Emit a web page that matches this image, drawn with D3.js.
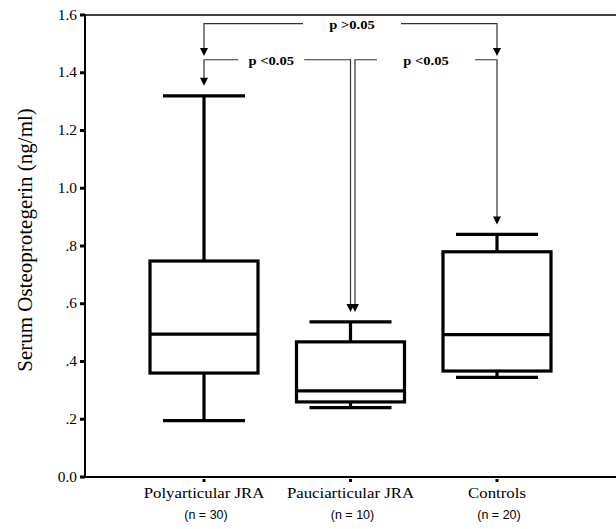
<!DOCTYPE html>
<html>
<head>
<meta charset="utf-8">
<script src="https://cdn.jsdelivr.net/npm/d3@7"></script>
<style>
  body { margin: 0; background: #fff; }
  svg { display: block; }
</style>
</head>
<body>
<svg id="chart" width="616" height="529"></svg>
<script>
const categories = ["Polyarticular JRA", "Pauciarticular JRA", "Controls"]
const nLabels = ["(n = 30)", "(n = 10)", "(n = 20)"]
const whiskerLow = [0.195, 0.24, 0.345]
const q1 = [0.36, 0.26, 0.367]
const median = [0.495, 0.298, 0.493]
const q3 = [0.748, 0.468, 0.78]
const whiskerHigh = [1.32, 0.537, 0.84]
const yTicks = [0, 0.2, 0.4, 0.6, 0.8, 1.0, 1.2, 1.4, 1.6]
const yTickLabels = ["0.0", ".2", ".4", ".6", ".8", "1.0", "1.2", "1.4", "1.6"]

// comparisons: group a -> group b, bracket level and where each arrow stops
const compFrom = [0, 0, 1]
const compTo = [2, 1, 2]
const compLabel = ["p >0.05", "p <0.05", "p <0.05"]
const compLevel = [1.57, 1.445, 1.445]
const compStopA = [1.458, null, null]
const compStopB = [1.458, null, null]

const svg = d3.select("#chart")
const W = 616
const axLeft = 85, axTop = 15, axBottom = 477

const y = d3.scaleLinear().domain([0, 1.6]).range([axBottom, axTop])
const x = d3.scalePoint().domain(categories).range([204, 497])

const boxW = 108, capW = 82
const serif = "'Liberation Serif', 'Times New Roman', serif"

// the source pdf renders its serif text a bit wide
const wideText = (sel, tx, ty, size, sx) => sel.append("text")
  .attr("transform", `translate(${tx},${ty}) scale(${sx},1)`)
  .style("font-family", serif)
  .style("font-size", size + "px")

// frame lines
svg.append("line").attr("x1", axLeft).attr("x2", W).attr("y1", axTop).attr("y2", axTop)
  .attr("stroke", "#000").attr("stroke-width", 1.5)
svg.append("line").attr("x1", axLeft).attr("x2", W).attr("y1", axBottom).attr("y2", axBottom)
  .attr("stroke", "#000").attr("stroke-width", 2)
svg.append("line").attr("x1", axLeft).attr("x2", axLeft).attr("y1", axTop).attr("y2", axBottom)
  .attr("stroke", "#000").attr("stroke-width", 2)

// y ticks
const yt = svg.append("g")
yTicks.forEach((t, i) => {
  yt.append("rect").attr("x", axLeft - 5).attr("y", y(t) - 1.5).attr("width", 5).attr("height", 3).attr("fill", "#000")
  wideText(yt, 77, y(t) + 4.5, 14, 1.1)
    .attr("text-anchor", "end")
    .text(yTickLabels[i])
})

svg.append("text")
  .attr("transform", `translate(32, 240) rotate(-90)`)
  .attr("text-anchor", "middle")
  .style("font-family", serif)
  .style("font-size", "21px")
  .text("Serum Osteoprotegerin (ng/ml)")

// x ticks and labels
categories.forEach((c, i) => {
  const cx = x(c)
  svg.append("rect").attr("x", cx - 1.5).attr("y", axBottom + 2).attr("width", 3).attr("height", 3).attr("fill", "#000")
  wideText(svg, cx, 498, 15, 1.12)
    .attr("text-anchor", "middle")
    .text(c)
  svg.append("text").attr("x", cx + 2).attr("y", 519)
    .attr("text-anchor", "middle")
    .style("font-family", "'Liberation Sans', Arial, sans-serif")
    .style("font-size", "12.5px")
    .text(nLabels[i])
})

// boxes
const boxes = svg.append("g").attr("stroke", "#000").attr("stroke-width", 3.2).attr("fill", "none")
categories.forEach((c, i) => {
  const cx = x(c)
  boxes.append("line").attr("x1", cx).attr("x2", cx).attr("y1", y(whiskerHigh[i])).attr("y2", y(q3[i]))
  boxes.append("line").attr("x1", cx).attr("x2", cx).attr("y1", y(q1[i])).attr("y2", y(whiskerLow[i]))
  boxes.append("line").attr("x1", cx - capW / 2).attr("x2", cx + capW / 2).attr("y1", y(whiskerHigh[i])).attr("y2", y(whiskerHigh[i]))
  boxes.append("line").attr("x1", cx - capW / 2).attr("x2", cx + capW / 2).attr("y1", y(whiskerLow[i])).attr("y2", y(whiskerLow[i]))
  boxes.append("rect").attr("x", cx - boxW / 2).attr("y", y(q3[i]))
    .attr("width", boxW).attr("height", y(q1[i]) - y(q3[i]))
  boxes.append("line").attr("x1", cx - boxW / 2).attr("x2", cx + boxW / 2).attr("y1", y(median[i])).attr("y2", y(median[i]))
})

// significance brackets
const ann = svg.append("g")
const arrow = (ax, tipY) => {
  ann.append("path").attr("d", `M${ax - 4},${tipY - 8}L${ax + 4},${tipY - 8}L${ax},${tipY}Z`).attr("fill", "#000")
}
const gapHalf = [49, 33, 49]
const capGap = 10
compLabel.forEach((lab, k) => {
  let xa = x(categories[compFrom[k]])
  let xb = x(categories[compTo[k]])
  // two arrows share the middle box, shift the second one right
  if (compFrom[k] === 1) xa += 4.5
  const ly = y(compLevel[k])
  const ya = compStopA[k] != null ? y(compStopA[k]) : y(whiskerHigh[compFrom[k]]) - capGap
  const yb = compStopB[k] != null ? y(compStopB[k]) : y(whiskerHigh[compTo[k]]) - capGap
  const mid = k === 0 ? 352 : (xa + xb) / 2 - (k === 1 ? 6 : 0)
  const g = gapHalf[k]
  ann.append("path")
    .attr("d", `M${xa},${ya - 7}V${ly}H${mid - g}M${mid + g},${ly}H${xb}V${yb - 7}`)
    .attr("fill", "none").attr("stroke", "#333").attr("stroke-width", 1.2)
  arrow(xa, ya)
  arrow(xb, yb)
  wideText(ann, mid, ly + 5.5, 13, 1.12)
    .attr("text-anchor", "middle")
    .style("font-weight", "bold")
    .text(lab)
})
</script>
</body>
</html>
